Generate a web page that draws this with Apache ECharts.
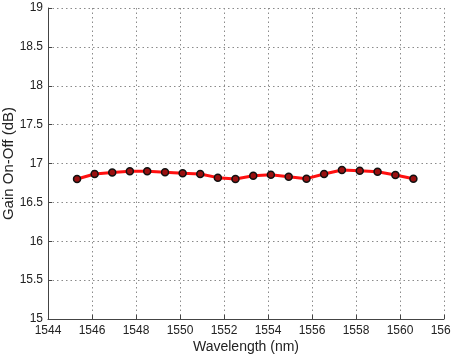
<!DOCTYPE html>
<html>
<head>
<meta charset="utf-8">
<script src="https://cdn.jsdelivr.net/npm/echarts@6/dist/echarts.min.js"></script>
<style>
  html, body { margin: 0; padding: 0; background: #fff; }
  #chart { width: 451px; height: 354px; }
</style>
</head>
<body>
<div id="chart"></div>
<script>
// 波长 (nm)
const wavelengths = [1545.32, 1546.12, 1546.92, 1547.72, 1548.51, 1549.32, 1550.12, 1550.92, 1551.72, 1552.52,
  1553.33, 1554.13, 1554.94, 1555.75, 1556.55, 1557.36, 1558.17, 1558.98, 1559.79, 1560.61];
// 增益 (dB)
const gains = [16.80, 16.865, 16.885, 16.90, 16.90, 16.887, 16.874, 16.865, 16.818, 16.80,
  16.843, 16.856, 16.83, 16.805, 16.865, 16.916, 16.907, 16.895, 16.852, 16.805];

const xTicks = { min: 1544, max: 1562, step: 2 };
const yTicks = { min: 15, max: 19, step: 0.5 };

const chart = echarts.init(document.getElementById('chart'));

const gridLine = { color: '#8a8a8a', type: [1.5, 3], width: 1 };

chart.setOption({
  animation: false,
  backgroundColor: '#fff',
  textStyle: { fontFamily: 'Liberation Sans, Arial, sans-serif' },
  grid: { left: 48, right: 7, top: 8, bottom: 35, containLabel: false, outerBoundsMode: 'none' },
  xAxis: {
    type: 'value',
    min: xTicks.min,
    max: xTicks.max,
    interval: xTicks.step,
    name: 'Wavelength (nm)',
    nameLocation: 'middle',
    nameGap: 21,
    nameMoveOverlap: false,
    nameTextStyle: { color: '#222', fontSize: 14 },
    axisLine: { show: true, lineStyle: { color: '#444', width: 1 } },
    axisTick: { show: true, inside: true, length: 4, lineStyle: { color: '#444' } },
    axisLabel: { color: '#222', fontSize: 12, margin: 6, formatter: v => String(v) },
    splitLine: { show: true, lineStyle: gridLine }
  },
  yAxis: {
    type: 'value',
    min: yTicks.min,
    max: yTicks.max,
    interval: yTicks.step,
    name: 'Gain On-Off (dB)',
    nameLocation: 'middle',
    nameGap: 32,
    nameMoveOverlap: false,
    nameTextStyle: { color: '#222', fontSize: 15 },
    axisLine: { show: true, lineStyle: { color: '#444', width: 1 } },
    axisTick: { show: true, inside: true, length: 4, lineStyle: { color: '#444' } },
    axisLabel: { color: '#222', fontSize: 12, margin: 5, formatter: v => String(v) },
    splitLine: { show: true, lineStyle: gridLine }
  },
  series: [{
    type: 'line',
    data: wavelengths.map((w, i) => [w, gains[i]]),
    smooth: false,
    lineStyle: { color: '#ff1010', width: 3 },
    symbol: 'circle',
    symbolSize: 7,
    itemStyle: { color: '#9a1010', borderColor: '#111', borderWidth: 1.5 }
  }]
});
</script>
</body>
</html>
